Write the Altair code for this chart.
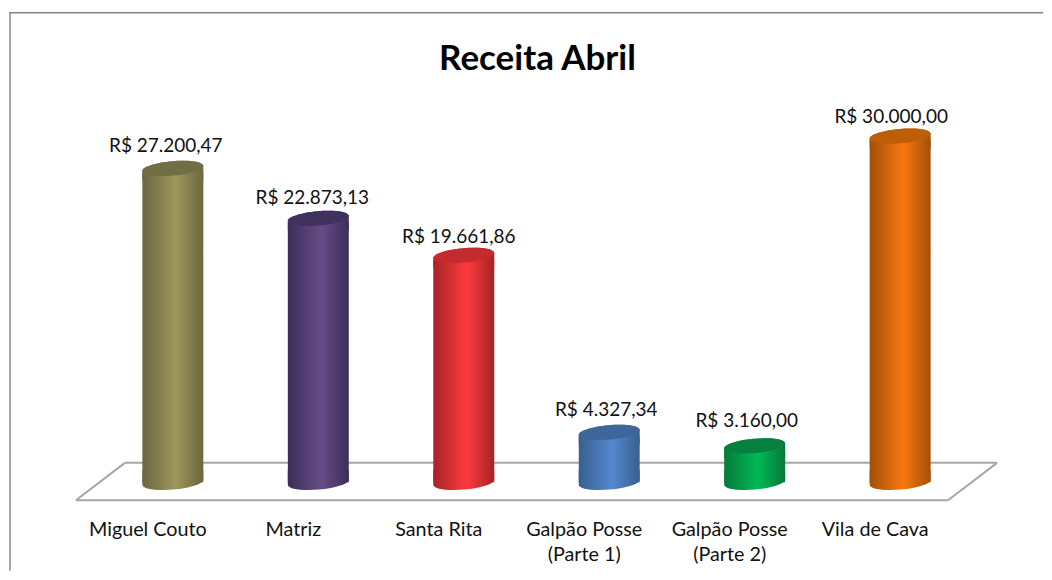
import altair as alt
import pandas as pd

title = "Receita Abril"
categories = ["Miguel Couto", "Matriz", "Santa Rita", "Galpão Posse\n(Parte 1)", "Galpão Posse\n(Parte 2)", "Vila de Cava"]
values = [27200.47, 22873.13, 19661.86, 4327.34, 3160.00, 30000.00]
labels = ["R$ 27.200,47", "R$ 22.873,13", "R$ 19.661,86", "R$ 4.327,34", "R$ 3.160,00", "R$ 30.000,00"]
edge_colors = ["#6b6740", "#3d2e58", "#a52327", "#38608f", "#067a3b", "#a35008"]
center_colors = ["#9e965c", "#674b87", "#fd3b3e", "#5387ce", "#00b956", "#f8770f"]
top_colors = ["#716d45", "#40315f", "#c42a2e", "#3e6698", "#06803f", "#bd5f08"]
label_dx = [-7, -6, -5, -3, -8, -9]
label_dy = [-22, -20, -18, -22, -25, -19]

FONT = "Lato"
W, H = 1036, 496
ELLIPSE = "M-1,0.087A1,0.235,-5,1,1,1,-0.087A1,0.235,-5,1,1,-1,0.087Z"
COLLAR = "M-1,0.087A1,0.235,-5,0,1,1,-0.087L1,0.4L-1,0.4Z"
CUP = "M-1,-0.4L-1,0.087A1,0.235,-5,0,0,1,-0.087L1,-0.4Z"

x_scale = alt.Scale(domain=categories, range=[92.2, 965.8], paddingInner=0, paddingOuter=0)
y_scale = alt.Scale(domain=[0, 30000], range=[474.5, 128], nice=False, zero=False)
x_enc = alt.X("cat:N", scale=x_scale, sort=categories,
              axis=alt.Axis(title=None, domain=False, ticks=False, grid=False, labelAngle=0,
                            labelExpr="split(datum.label, '\\n')", labelFont=FONT, labelFontSize=19.8,
                            labelColor="#111111", labelPadding=16, labelOffset=-25, labelLineHeight=25,
                            labelLimit=200, labelBaseline="top"))
y_enc = alt.Y("val:Q", scale=y_scale, axis=None)
y0_enc = alt.Y("zero:Q", scale=y_scale, axis=None)


def seg(x, x2, y, y2, color, width=2):
    base = alt.Chart(pd.DataFrame({"k": [0]})).mark_rule(color=color, strokeWidth=width)
    return base.encode(x=alt.value(x), x2=alt.value(x2), y=alt.value(y), y2=alt.value(y2))


layers = [
    seg(2, 2, 4, 563, "#a8a8a8", 2),
    seg(1.5, W, 4.5, 4.5, "#848484", 1.5),
    seg(117, 990, 455, 455, "#a6a6a6"),
    seg(68, 941, 492.5, 492.5, "#a6a6a6"),
    seg(68, 117, 492.5, 455, "#a6a6a6"),
    seg(941, 990, 492.5, 455, "#a6a6a6"),
]

for i, cat in enumerate(categories):
    df = pd.DataFrame({"cat": [cat], "val": [values[i]], "zero": [0], "lab": [labels[i]]})
    grad = alt.Gradient(gradient="linear", x1=0, x2=1, y1=0, y2=0, stops=[
        alt.GradientStop(color=edge_colors[i], offset=0),
        alt.GradientStop(color=center_colors[i], offset=0.55),
        alt.GradientStop(color=edge_colors[i], offset=1),
    ])
    base = alt.Chart(df)
    symbol = dict(size=3721, filled=True, opacity=1, strokeWidth=0)
    layers.append(base.mark_bar(size=61, fill=grad, strokeWidth=0, yOffset=4)
                  .encode(x=x_enc, y=y_enc, y2="zero:Q"))
    layers.append(base.mark_point(shape=CUP, fill=grad, **symbol).encode(x=x_enc, y=y0_enc))
    layers.append(base.mark_point(shape=COLLAR, fill=grad, **symbol).encode(x=x_enc, y=y_enc))
    layers.append(base.mark_point(shape=ELLIPSE, fill=top_colors[i], **symbol).encode(x=x_enc, y=y_enc))
    layers.append(base.mark_text(font=FONT, fontSize=19, color="#111111", dx=label_dx[i], dy=label_dy[i])
                  .encode(x=x_enc, y=y_enc, text="lab:N"))

chart = alt.layer(*layers).properties(
    width=W, height=H, padding=0,
    title=alt.TitleParams(text=title, font=FONT, fontSize=35, fontWeight="bold", color="#000000",
                          anchor="middle", frame="group", offset=-69, dx=12),
).configure_view(stroke=None)

chart.save("out.html", embed_options={"renderer": "svg", "actions": False})
